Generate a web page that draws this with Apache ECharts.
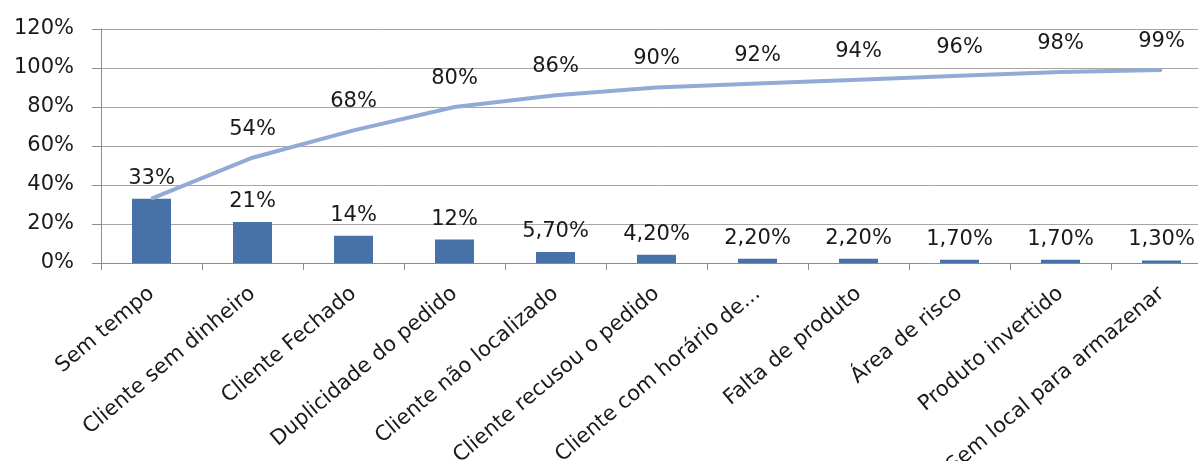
<!DOCTYPE html>
<html>
<head>
<meta charset="utf-8">
<script src="https://cdn.jsdelivr.net/npm/echarts@6/dist/echarts.min.js"></script>
<style>
  html, body { margin: 0; padding: 0; background: #fff; overflow: hidden; }
  /* o gráfico original é cortado à direita */
  #main { width: 1212px; height: 461px; }
</style>
</head>
<body>
<div id="main"></div>
<script>
        var categorias = ['Sem tempo', 'Cliente sem dinheiro', 'Cliente Fechado', 'Duplicidade do pedido',
            'Cliente não localizado', 'Cliente recusou o pedido', 'Cliente com horário de...',
            'Falta de produto', 'Área de risco', 'Produto invertido', 'Sem local para armazenar'];
        var ocorrencias = [33, 21, 14, 12, 5.7, 4.2, 2.2, 2.2, 1.7, 1.7, 1.3];
        var rotulosBarra = ['33%', '21%', '14%', '12%', '5,70%', '4,20%', '2,20%', '2,20%', '1,70%', '1,70%', '1,30%'];
        var acumulado = [33, 54, 68, 80, 86, 90, 92, 94, 96, 98, 99];
        var ticksY = [0, 20, 40, 60, 80, 100, 120];

        var myChart = echarts.init(document.getElementById('main'));

        var fonte = 'DejaVu Sans';
        var corTexto = '#1a1a1a';
        var corLinha = '#91abd6';

        var dadosLinha = acumulado.map(function (v, i) {
            // o primeiro rótulo coincide com o da barra
            return i === 0 ? { value: v, label: { show: false } } : v;
        });

        var option = {
            animation: false,
            grid: {
                left: 101,
                right: 0,
                top: 29,
                bottom: 198,
                outerBoundsMode: 'none'
            },
            xAxis: {
                type: 'category',
                data: categorias,
                axisLine: { lineStyle: { color: '#8c8c8c', width: 1 } },
                axisTick: { show: true, length: 7, lineStyle: { color: '#8c8c8c' } },
                axisLabel: {
                    rotate: 40,
                    margin: 28,
                    interval: 0,
                    color: corTexto,
                    fontFamily: fonte,
                    fontSize: 21
                }
            },
            yAxis: {
                type: 'value',
                min: ticksY[0],
                max: ticksY[ticksY.length - 1],
                interval: 20,
                axisLine: { show: true, lineStyle: { color: '#8c8c8c' } },
                axisTick: { show: true, length: 9, lineStyle: { color: '#8c8c8c' } },
                splitLine: { show: true, lineStyle: { color: '#a6a6a6', width: 1 } },
                axisLabel: {
                    formatter: '{value}%',
                    margin: 27,
                    color: corTexto,
                    fontFamily: fonte,
                    fontSize: 21
                }
            },
            series: [{
                name: 'Ocorrências',
                type: 'bar',
                barWidth: 39,
                itemStyle: { color: '#4672a8' },
                label: {
                    show: true,
                    position: 'top',
                    distance: 10,
                    color: corTexto,
                    fontFamily: fonte,
                    fontSize: 21,
                    formatter: function (p) { return rotulosBarra[p.dataIndex]; }
                },
                data: ocorrencias
            }, {
                name: 'Acumulado',
                type: 'line',
                symbol: 'circle',
                symbolSize: 2,
                itemStyle: { color: corLinha },
                lineStyle: { color: corLinha, width: 4 },
                label: {
                    show: true,
                    position: 'top',
                    distance: 17,
                    color: corTexto,
                    fontFamily: fonte,
                    fontSize: 21,
                    formatter: '{c}%'
                },
                labelLayout: { hideOverlap: false },
                data: dadosLinha
            }]
        };

        myChart.setOption(option);
</script>
</body>
</html>
